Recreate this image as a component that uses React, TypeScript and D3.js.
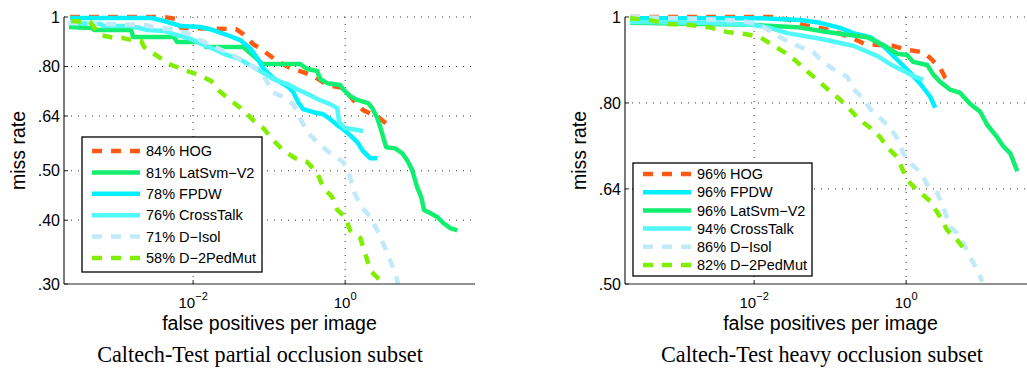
import * as d3 from "d3";

type Pt = [number, number]; // [false positives per image, miss rate]

// ---- Caltech-Test partial occlusion subset ----
const partialHOG: Pt[] = [
  [2.4e-4, 1.0], [4.15e-3, 1.0], [5.97e-3, 0.991], [6.95e-3, 0.952], [3.68e-2, 0.947],
  [4.55e-2, 0.926], [6.16e-2, 0.885], [8.86e-2, 0.854], [0.127, 0.82], [0.201, 0.791],
  [0.28, 0.78], [0.403, 0.763], [0.58, 0.736], [0.941, 0.726], [1.27, 0.688],
  [1.72, 0.657], [2.72, 0.637], [3.68, 0.614], [4.15, 0.609],
];
const partialLatSvm: Pt[] = [
  [2.33e-4, 0.956], [4.69e-4, 0.952], [4.98e-4, 0.943], [1.53e-3, 0.943], [1.62e-3, 0.914],
  [5.62e-3, 0.914], [6.16e-3, 0.893], [1.4e-2, 0.893], [1.48e-2, 0.873], [4.55e-2, 0.873],
  [5.62e-2, 0.85], [7.16e-2, 0.824], [8.09e-2, 0.809], [0.256, 0.809], [0.316, 0.791],
  [0.428, 0.784], [0.469, 0.756], [0.58, 0.742], [0.86, 0.736], [0.941, 0.722],
  [1.16, 0.7], [1.44, 0.688], [2.01, 0.678], [2.27, 0.663], [2.64, 0.634],
  [2.89, 0.609], [3.16, 0.582], [3.46, 0.556], [4.55, 0.553], [5.62, 0.541],
  [6.55, 0.524], [7.62, 0.501], [8.86, 0.464], [10.0, 0.444], [10.9, 0.419],
  [13.1, 0.413], [16.2, 0.406], [19.5, 0.395], [24.1, 0.386], [29.8, 0.382],
];
const partialFPDW: Pt[] = [
  [2.41e-4, 0.996], [2.8e-3, 0.996], [4.15e-3, 0.982], [6.95e-3, 0.96], [1.24e-2, 0.956],
  [1.83e-2, 0.943], [2.8e-2, 0.922], [4.15e-2, 0.901], [5.62e-2, 0.869], [6.95e-2, 0.831],
  [8.34e-2, 0.794], [0.113, 0.759], [0.173, 0.732], [0.207, 0.713], [0.241, 0.681],
  [0.28, 0.66], [0.38, 0.651], [0.514, 0.645], [0.635, 0.631], [0.785, 0.614],
  [0.941, 0.603], [1.16, 0.587], [1.44, 0.569], [1.72, 0.546], [2.13, 0.529], [2.64, 0.529],
];
const partialCrossTalk: Pt[] = [
  [2.41e-4, 0.973], [6.16e-4, 0.969], [6.55e-4, 0.96], [1.53e-3, 0.96], [2.48e-3, 0.943],
  [4.15e-3, 0.939], [5.62e-3, 0.926], [9.41e-3, 0.905], [1.4e-2, 0.881], [1.89e-2, 0.865],
  [2.56e-2, 0.846], [3.79e-2, 0.831], [5.62e-2, 0.805], [7.62e-2, 0.784], [0.113, 0.756],
  [0.173, 0.739], [0.233, 0.722], [0.346, 0.703], [0.428, 0.691], [0.635, 0.675],
  [0.785, 0.663], [0.834, 0.622], [1.0, 0.606], [1.72, 0.598],
];
const partialDIsol: Pt[] = [
  [2.26e-4, 0.973], [5.97e-4, 0.969], [2.48e-3, 0.9645], [3.16e-3, 0.952], [5.46e-3, 0.947],
  [8.34e-3, 0.93], [1.24e-2, 0.901], [1.83e-2, 0.877], [3.36e-2, 0.842], [5.14e-2, 0.812],
  [7.62e-2, 0.78], [9.41e-2, 0.746], [0.109, 0.713], [0.153, 0.697], [0.207, 0.675],
  [0.256, 0.634], [0.316, 0.595], [0.441, 0.566], [0.635, 0.541], [0.941, 0.52],
  [1.16, 0.486], [1.31, 0.454], [1.58, 0.428], [2.13, 0.406], [2.72, 0.379],
  [3.57, 0.345], [4.41, 0.319], [4.98, 0.3],
];
const partialD2Ped: Pt[] = [
  [2.48e-4, 0.982], [4.41e-4, 0.978], [5.3e-4, 0.943], [5.97e-4, 0.922], [9.14e-4, 0.91],
  [1.16e-3, 0.91], [1.57e-3, 0.901], [2.07e-3, 0.897], [2.27e-3, 0.873], [3.36e-3, 0.839],
  [4.83e-3, 0.809], [7.62e-3, 0.787], [1.2e-2, 0.77], [1.73e-2, 0.749], [2.27e-2, 0.713],
  [3.07e-2, 0.688], [4.55e-2, 0.657], [6.16e-2, 0.628], [8.34e-2, 0.606], [0.113, 0.574],
  [0.153, 0.548], [0.22, 0.529], [0.316, 0.52], [0.428, 0.495], [0.514, 0.464],
  [0.674, 0.444], [0.785, 0.419], [1.0, 0.406], [1.16, 0.382], [1.58, 0.369],
  [1.83, 0.345], [2.13, 0.319], [2.89, 0.305], [3.07, 0.3],
];

// ---- Caltech-Test heavy occlusion subset ----
const heavyHOG: Pt[] = [
  [2.33e-4, 1.0], [1.89e-2, 1.0], [2.98e-2, 0.992], [4.41e-2, 0.9795], [0.1, 0.967],
  [0.183, 0.949], [0.289, 0.932], [0.654, 0.928], [1.06, 0.918], [1.67, 0.913],
  [2.07, 0.899], [2.8, 0.876], [3.26, 0.854], [3.79, 0.843],
];
const heavyFPDW: Pt[] = [
  [2.33e-4, 0.997], [1.2e-2, 0.997], [4.03e-2, 0.992], [7.38e-2, 0.985], [0.135, 0.972],
  [0.201, 0.959], [0.336, 0.949], [0.498, 0.928], [0.762, 0.895], [1.13, 0.865],
  [1.53, 0.841], [2.07, 0.813], [2.41, 0.79],
];
const heavyLatSvm: Pt[] = [
  [2.33e-4, 0.985], [8.86e-3, 0.98], [3.68e-2, 0.974], [9.14e-2, 0.962], [0.183, 0.954],
  [0.307, 0.949], [0.498, 0.93], [0.762, 0.909], [1.03, 0.906], [1.24, 0.89],
  [1.89, 0.883], [2.27, 0.861], [2.8, 0.845], [3.79, 0.828], [5.14, 0.821],
  [6.95, 0.798], [9.41, 0.782], [11.6, 0.756], [15.7, 0.732], [18.9, 0.715],
  [23.4, 0.702], [28.9, 0.67],
];
const heavyCrossTalk: Pt[] = [
  [2.33e-4, 0.987], [1.95e-3, 0.985], [9.7e-3, 0.98], [1.62e-2, 0.972], [2.72e-2, 0.959],
  [7.38e-2, 0.945], [0.201, 0.928], [0.415, 0.904], [0.674, 0.881], [1.03, 0.865],
  [1.31, 0.856], [1.67, 0.85],
];
const heavyDIsol: Pt[] = [
  [2.33e-4, 1.0], [1.95e-3, 0.995], [6.95e-3, 0.99], [1.2e-2, 0.98], [1.78e-2, 0.959],
  [2.56e-2, 0.942], [4.03e-2, 0.925], [5.97e-2, 0.913], [8.09e-2, 0.89], [0.109, 0.874],
  [0.168, 0.856], [0.201, 0.83], [0.272, 0.809], [0.336, 0.788], [0.455, 0.769],
  [0.616, 0.75], [0.785, 0.727], [0.914, 0.702], [1.13, 0.684], [1.53, 0.669],
  [1.89, 0.647], [2.56, 0.633], [3.07, 0.611], [3.79, 0.58], [4.69, 0.571],
  [5.62, 0.556], [6.95, 0.536], [8.59, 0.519], [10.0, 0.503],
];
const heavyD2Ped: Pt[] = [
  [2.33e-4, 0.997], [4.28e-4, 0.992], [7.38e-4, 0.982], [1.44e-3, 0.9795], [2.48e-3, 0.974],
  [4.41e-3, 0.962], [7.62e-3, 0.957], [1.2e-2, 0.949], [1.73e-2, 0.93], [2.48e-2, 0.913],
  [3.57e-2, 0.892], [4.69e-2, 0.872], [6.74e-2, 0.85], [0.1, 0.824], [0.135, 0.807],
  [0.183, 0.786], [0.248, 0.765], [0.336, 0.75], [0.455, 0.732], [0.562, 0.713],
  [0.762, 0.695], [1.03, 0.655], [1.4, 0.638], [2.07, 0.62], [2.8, 0.595],
  [3.46, 0.575], [4.69, 0.5605], [6.35, 0.542],
];

const partialMethods = ["HOG", "LatSvm−V2", "FPDW", "CrossTalk", "D−Isol", "D−2PedMut"];
const partialScores = [84, 81, 78, 76, 71, 58];
const partialCurves = [partialHOG, partialLatSvm, partialFPDW, partialCrossTalk, partialDIsol, partialD2Ped];

const heavyMethods = ["HOG", "FPDW", "LatSvm−V2", "CrossTalk", "D−Isol", "D−2PedMut"];
const heavyScores = [96, 96, 96, 94, 86, 82];
const heavyCurves = [heavyHOG, heavyFPDW, heavyLatSvm, heavyCrossTalk, heavyDIsol, heavyD2Ped];

const partialYTicks = [0.3, 0.4, 0.5, 0.64, 0.8, 1];
const heavyYTicks = [0.5, 0.64, 0.8, 1];
const xTickExps = [-2, 0];

const styles: Record<string, { color: string; dash?: string }> = {
  HOG: { color: "#ff5a14", dash: "10 9" },
  "LatSvm−V2": { color: "#12ee70" },
  FPDW: { color: "#00f0ff" },
  CrossTalk: { color: "#52f8f8" },
  "D−Isol": { color: "#c0eafa", dash: "10 9" },
  "D−2PedMut": { color: "#80ee00", dash: "10 9" },
};

const SANS = "'Liberation Sans', Arial, Helvetica, sans-serif";
const SERIF = "'Liberation Serif', 'Times New Roman', serif";

type PanelProps = {
  left: number;
  right: number;
  yMin: number;
  yTicks: number[];
  methods: string[];
  scores: number[];
  curves: Pt[][];
  legend: { x: number; y: number; w: number; h: number; first: number; gap: number };
  caption: string;
  captionX: number;
};

function Panel(p: PanelProps) {
  const top = 17, bottom = 284;
  const x = d3.scaleLog().domain([2e-4, 51]).range([p.left, p.right]);
  const y = d3.scaleLog().domain([p.yMin, 1]).range([bottom, top]);
  const line = d3.line<Pt>().x(d => x(d[0])).y(d => y(d[1]));
  const midX = (p.left + p.right) / 2;
  const midY = (top + bottom) / 2;
  const fmt = (v: number) => (v === 1 ? "1" : "." + d3.format("02d")(Math.round(v * 100)));

  return (
    <g>
      {/* grid */}
      {p.yTicks.filter(v => v !== p.yMin).map(v => (
        <line key={"gy" + v} x1={p.left} x2={p.right} y1={y(v)} y2={y(v)}
          stroke="#333" strokeWidth={1} strokeDasharray="1 6" />
      ))}
      {xTickExps.map(e => (
        <line key={"gx" + e} x1={x(10 ** e)} x2={x(10 ** e)} y1={top} y2={bottom}
          stroke="#333" strokeWidth={1} strokeDasharray="1 6" />
      ))}
      {/* curves */}
      {p.curves.map((c, i) => {
        const s = styles[p.methods[i]];
        return (
          <path key={"c" + i} d={line(c) ?? ""} fill="none" stroke={s.color}
            strokeWidth={4.5} strokeDasharray={s.dash} strokeLinejoin="round" />
        );
      })}
      {/* axes */}
      <line x1={p.left} x2={p.left} y1={top} y2={bottom} stroke="#222" strokeWidth={1.2} />
      <line x1={p.left} x2={p.right} y1={bottom} y2={bottom} stroke="#222" strokeWidth={1.2} />
      {p.yTicks.map(v => (
        <g key={"ty" + v}>
          <line x1={p.left} x2={p.left + 4} y1={y(v)} y2={y(v)} stroke="#222" />
          <text x={p.left - 4} y={y(v)} dy="0.36em" textAnchor="end" fontFamily={SANS} fontSize={16}>
            {fmt(v)}
          </text>
        </g>
      ))}
      {xTickExps.map(e => (
        <g key={"tx" + e}>
          <line x1={x(10 ** e)} x2={x(10 ** e)} y1={bottom} y2={bottom - 4} stroke="#222" />
          <text x={x(10 ** e)} y={308} textAnchor="middle" fontFamily={SANS} fontSize={15}>
            10<tspan dy={-8} fontSize={11}>{e < 0 ? "−" + Math.abs(e) : String(e)}</tspan>
          </text>
        </g>
      ))}
      <text x={midX} y={330} textAnchor="middle" fontFamily={SANS} fontSize={19.5}>
        false positives per image
      </text>
      <text transform={`translate(${p.left - 39},${midY}) rotate(-90)`} textAnchor="middle"
        fontFamily={SANS} fontSize={19.5}>
        miss rate
      </text>
      {/* legend */}
      <rect x={p.legend.x} y={p.legend.y} width={p.legend.w} height={p.legend.h}
        fill="#fff" stroke="#000" strokeWidth={1.3} />
      {p.methods.map((m, i) => {
        const s = styles[m];
        const ly = p.legend.y + p.legend.first + i * p.legend.gap;
        return (
          <g key={"l" + m}>
            <line x1={p.legend.x + 10} x2={p.legend.x + 58} y1={ly} y2={ly}
              stroke={s.color} strokeWidth={4.5} strokeDasharray={s.dash} />
            <text x={p.legend.x + 64} y={ly} dy="0.36em" fontFamily={SANS} fontSize={14.5}>
              {p.scores[i]}% {m}
            </text>
          </g>
        );
      })}
      <text x={p.captionX} y={362} textAnchor="middle" fontFamily={SERIF} fontSize={22.2}>
        {p.caption}
      </text>
    </g>
  );
}

export default function App() {
  return (
    <>
      <style>{"body{margin:0}"}</style>
      <svg width={1027} height={369} style={{ display: "block", background: "#fff" }}>
        <Panel left={64} right={475} yMin={0.3} yTicks={partialYTicks}
          methods={partialMethods} scores={partialScores} curves={partialCurves}
          legend={{ x: 82, y: 137, w: 180, h: 135, first: 14, gap: 21.4 }}
          caption="Caltech-Test partial occlusion subset" captionX={260} />
        <Panel left={625} right={1036} yMin={0.5} yTicks={heavyYTicks}
          methods={heavyMethods} scores={heavyScores} curves={heavyCurves}
          legend={{ x: 633, y: 163, w: 179, h: 113, first: 11, gap: 18.2 }}
          caption="Caltech-Test heavy occlusion subset" captionX={822} />
      </svg>
    </>
  );
}
